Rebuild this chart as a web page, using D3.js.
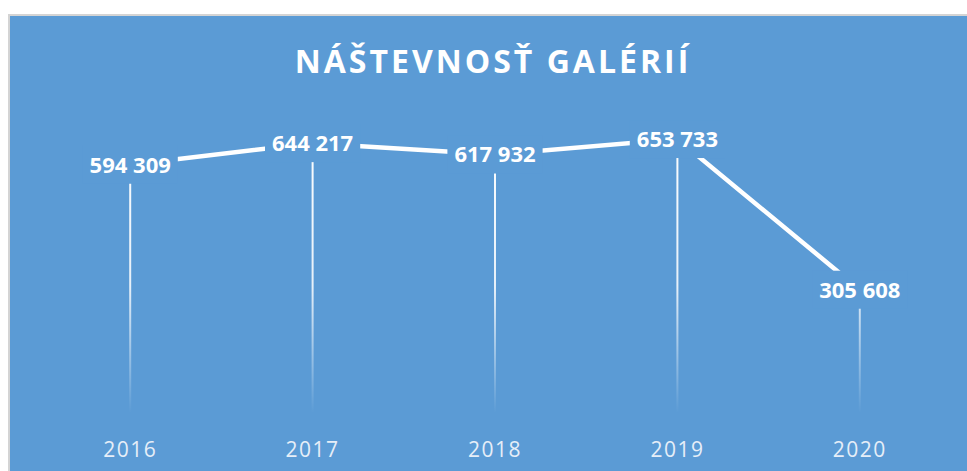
<!DOCTYPE html>
<html lang="sk">
<head>
<meta charset="UTF-8">
<title>Náštevnosť galérií</title>
<script src="https://cdnjs.cloudflare.com/ajax/libs/d3/7.8.5/d3.min.js"></script>
<style>
    body { margin: 0; background: #fff; }
    svg { display: block; font-family: "Open Sans", sans-serif; }
</style>
</head>
<body>
<svg id="chart" width="967" height="471"></svg>
<script>
    // data
    const years = ["2016", "2017", "2018", "2019", "2020"];
    const visitors = [594309, 644217, 617932, 653733, 305608];

    const W = 967, H = 471;
    const bg = "#5b9bd5";
    const svg = d3.select("#chart");

    // chart panel
    svg.append("rect")
        .attr("x", 9).attr("y", 15)
        .attr("width", W + 10).attr("height", H + 10)
        .attr("fill", bg)
        .attr("stroke", "#d4d4d4")
        .attr("stroke-width", 2);

    const x = d3.scaleBand().domain(years).range([39, 951]);
    const y = d3.scaleLinear().domain([0, 700000]).range([422, 119]);
    const cx = d => x(d) + x.bandwidth() / 2;

    const data = years.map((yr, i) => ({ year: yr, value: visitors[i] }));

    // fading gradient for drop lines
    const grad = svg.append("defs").append("linearGradient")
        .attr("id", "fade")
        .attr("gradientUnits", "userSpaceOnUse")
        .attr("x1", 0).attr("x2", 0)
        .attr("y1", y(700000)).attr("y2", y(0));
    grad.append("stop").attr("offset", "0%").attr("stop-color", "#fff").attr("stop-opacity", 1);
    grad.append("stop").attr("offset", "55%").attr("stop-color", "#fff").attr("stop-opacity", 0.85);
    grad.append("stop").attr("offset", "97%").attr("stop-color", "#fff").attr("stop-opacity", 0);

    svg.append("g").selectAll("line")
        .data(data)
        .join("line")
        .attr("x1", d => cx(d.year)).attr("x2", d => cx(d.year))
        .attr("y1", d => y(d.value)).attr("y2", y(0))
        .attr("stroke", "url(#fade)")
        .attr("stroke-width", 2);

    // main line
    svg.append("path")
        .datum(data)
        .attr("fill", "none")
        .attr("stroke", "#fff")
        .attr("stroke-width", 4.5)
        .attr("d", d3.line().x(d => cx(d.year)).y(d => y(d.value)));

    // data labels, boxed in the background colour so the line breaks around them
    const fmt = v => d3.format(",")(v).replace(/,/g, " ");
    const labels = svg.append("g").selectAll("g")
        .data(data)
        .join("g")
        .attr("transform", d => `translate(${cx(d.year)},${y(d.value)})`);

    const txt = labels.append("text")
        .attr("text-anchor", "middle")
        .attr("dy", "0.36em")
        .attr("fill", "#fff")
        .attr("font-size", 22)
        .attr("font-weight", 700)
        .text(d => fmt(d.value));

    txt.each(function () {
        const w = this.getComputedTextLength();
        d3.select(this.parentNode).insert("rect", "text")
            .attr("x", -w / 2 - 7).attr("y", -19)
            .attr("width", w + 14).attr("height", 38)
            .attr("fill", bg);
    });

    // category axis
    const axis = svg.append("g")
        .attr("transform", `translate(0,${y(0)})`)
        .call(d3.axisBottom(x).tickSize(0).tickPadding(20));
    axis.select(".domain").remove();
    axis.selectAll("text")
        .attr("font-family", "Open Sans, sans-serif")
        .attr("font-size", 21)
        .attr("letter-spacing", "1.5px")
        .attr("fill", "#e6eef8");

    // title
    svg.append("text")
        .attr("x", 493).attr("y", 73)
        .attr("text-anchor", "middle")
        .attr("fill", "#fff")
        .attr("font-size", 32)
        .attr("font-weight", 700)
        .attr("letter-spacing", "3px")
        .text("NÁŠTEVNOSŤ GALÉRIÍ");
</script>
</body>
</html>
